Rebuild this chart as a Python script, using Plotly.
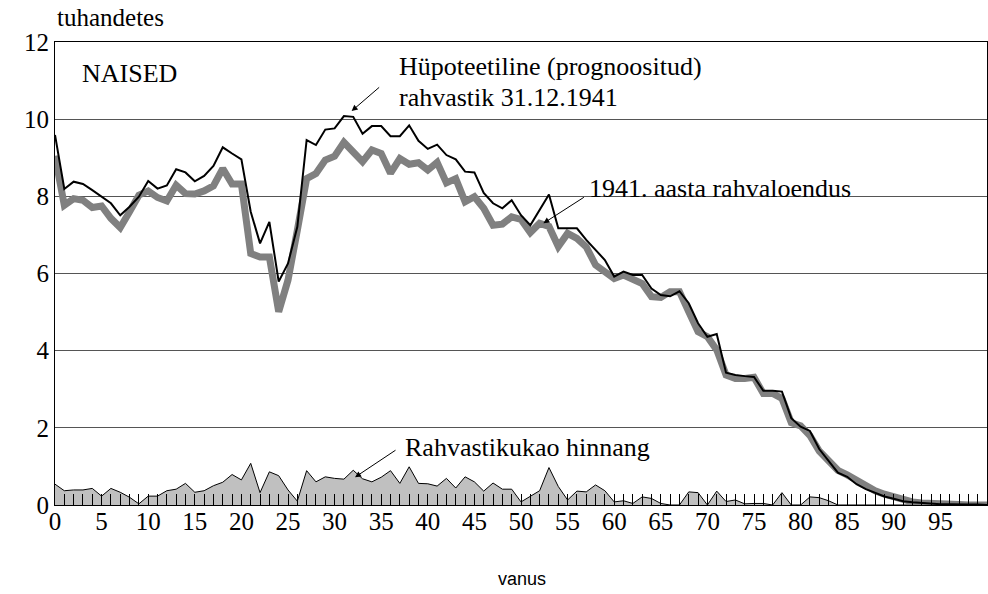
import plotly.graph_objects as go

ages = list(range(0, 101))

hypothetical = [9.59, 8.19, 8.38, 8.32, 8.16, 7.99, 7.82, 7.51, 7.73, 7.99,
                8.40, 8.20, 8.28, 8.70, 8.62, 8.39, 8.53, 8.79, 9.27, 9.11,
                8.96, 7.60, 6.78, 7.34, 5.79, 6.26, 7.21, 9.46, 9.33, 9.73,
                9.76, 10.08, 10.06, 9.62, 9.82, 9.82, 9.56, 9.56, 9.84, 9.44,
                9.23, 9.34, 9.07, 8.96, 8.64, 8.62, 8.09, 7.82, 7.69, 7.90,
                7.51, 7.25, 7.64, 8.05, 7.17, 7.17, 7.17, 6.87, 6.61, 6.35,
                5.92, 6.05, 5.96, 5.96, 5.61, 5.44, 5.41, 5.54, 5.23, 4.71,
                4.36, 4.43, 3.43, 3.37, 3.34, 3.32, 2.96, 2.96, 2.94, 2.25,
                2.03, 1.92, 1.45, 1.14, 0.84, 0.73, 0.54, 0.41, 0.32, 0.22,
                0.16, 0.10, 0.07, 0.05, 0.03, 0.02, 0.02, 0.01, 0.01, 0.01,
                0.00]

census = [9.05, 7.77, 7.94, 7.90, 7.71, 7.75, 7.43, 7.19, 7.60, 8.03,
          8.14, 7.97, 7.88, 8.29, 8.07, 8.06, 8.14, 8.27, 8.72, 8.32,
          8.32, 6.52, 6.43, 6.43, 5.01, 5.83, 7.12, 8.46, 8.59, 8.94,
          9.04, 9.40, 9.15, 8.90, 9.20, 9.11, 8.60, 8.98, 8.83, 8.87,
          8.68, 8.88, 8.35, 8.46, 7.86, 7.99, 7.69, 7.25, 7.28, 7.47,
          7.40, 7.06, 7.30, 7.22, 6.70, 7.04, 6.91, 6.69, 6.22, 6.05,
          5.87, 5.96, 5.85, 5.74, 5.40, 5.38, 5.53, 5.53, 5.01, 4.49,
          4.36, 4.02, 3.37, 3.28, 3.28, 3.31, 2.89, 2.89, 2.76, 2.13,
          2.05, 1.80, 1.40, 1.12, 0.90, 0.78, 0.63, 0.48, 0.37, 0.28,
          0.20, 0.13, 0.08, 0.05, 0.03, 0.02, 0.01, 0.01, 0.00, 0.00,
          0.00]

loss = [0.54, 0.37, 0.39, 0.39, 0.43, 0.23, 0.43, 0.33, 0.20, 0.03,
        0.23, 0.23, 0.37, 0.41, 0.56, 0.33, 0.37, 0.50, 0.59, 0.79,
        0.65, 1.08, 0.32, 0.86, 0.76, 0.39, 0.10, 0.89, 0.60, 0.73,
        0.69, 0.67, 0.90, 0.68, 0.60, 0.72, 0.89, 0.56, 0.99, 0.56,
        0.55, 0.49, 0.69, 0.44, 0.73, 0.60, 0.36, 0.57, 0.41, 0.41,
        0.08, 0.23, 0.37, 0.97, 0.48, 0.13, 0.36, 0.34, 0.52, 0.37,
        0.08, 0.11, 0.04, 0.21, 0.17, 0.04, 0.00, 0.00, 0.34, 0.32,
        0.00, 0.36, 0.09, 0.13, 0.03, 0.04, 0.04, 0.00, 0.32, 0.00,
        0.00, 0.21, 0.19, 0.11, 0.00, 0.00, 0.00, 0.00, 0.00, 0.00,
        0.00, 0.00, 0.00, 0.00, 0.00, 0.00, 0.00, 0.00, 0.00, 0.00,
        0.00]

x_tick_vals = list(range(0, 101))
x_tick_text = [str(a) if (a % 5 == 0 and a < 100) else "" for a in x_tick_vals]
y_tick_vals = [0, 2, 4, 6, 8, 10, 12]

SERIF = "Liberation Serif"

fig = go.Figure()
fig.add_trace(go.Scatter(x=ages, y=loss, mode="lines", fill="tozeroy",
                         fillcolor="#c0c0c0", line=dict(color="black", width=1),
                         name="Rahvastikukao hinnang", showlegend=False))
fig.add_trace(go.Scatter(x=ages, y=census, mode="lines",
                         line=dict(color="#808080", width=7),
                         name="1941. aasta rahvaloendus", showlegend=False))
fig.add_trace(go.Scatter(x=ages, y=hypothetical, mode="lines",
                         line=dict(color="black", width=2),
                         name="Hüpoteetiline rahvastik", showlegend=False))

fig.update_layout(
    width=988, height=594,
    margin=dict(l=55, r=1, t=42, b=89),
    plot_bgcolor="white", paper_bgcolor="white",
    font=dict(family=SERIF, size=25, color="black"),
    xaxis=dict(range=[0, 100], tickmode="array", tickvals=x_tick_vals,
               ticktext=x_tick_text, ticks="inside", ticklen=11,
               tickcolor="black", tickwidth=1, showgrid=False,
               showline=True, linecolor="black", linewidth=1, mirror=True,
               zeroline=False, ticklabelstandoff=-6,
               tickfont=dict(family=SERIF, size=25)),
    yaxis=dict(range=[0, 12], tickvals=y_tick_vals, showgrid=True,
               gridcolor="#555555", gridwidth=1, ticks="",
               showline=True, linecolor="black", linewidth=1, mirror=True,
               zeroline=False, ticklabelstandoff=0,
               tickfont=dict(family=SERIF, size=25)),
)

annotations = [
    dict(text="tuhandetes", xref="paper", yref="paper", x=0, y=1.052,
         xanchor="left", yanchor="middle", showarrow=False,
         font=dict(family=SERIF, size=25)),
    dict(text="NAISED", xref="x", yref="y", x=2.68, y=11.19,
         xanchor="left", yanchor="middle", showarrow=False,
         font=dict(family=SERIF, size=26)),
    dict(text="Hüpoteetiline (prognoositud)", xref="x", yref="y", x=36.7, y=11.37,
         xanchor="left", yanchor="middle", showarrow=False,
         font=dict(family=SERIF, size=26)),
    dict(text="rahvastik 31.12.1941", xref="x", yref="y", x=36.7, y=10.55,
         xanchor="left", yanchor="middle", showarrow=False,
         font=dict(family=SERIF, size=26)),
    dict(text="1941. aasta rahvaloendus", xref="x", yref="y", x=57.1, y=8.21,
         xanchor="left", yanchor="middle", showarrow=False,
         font=dict(family=SERIF, size=26)),
    dict(text="Rahvastikukao hinnang", xref="x", yref="y", x=37.3, y=1.50,
         xanchor="left", yanchor="middle", showarrow=False,
         font=dict(family=SERIF, size=26)),
    dict(text="vanus", xref="paper", yref="paper", x=0.501, y=-0.16,
         xanchor="center", yanchor="middle", showarrow=False,
         font=dict(family="Liberation Sans", size=18)),
    # arrows
    dict(text="", xref="x", yref="y", x=31.83, y=10.21, ax=29, ay=-25,
         axref="pixel", ayref="pixel", showarrow=True, arrowhead=2,
         arrowsize=1.2, arrowwidth=1, arrowcolor="black"),
    dict(text="", xref="x", yref="y", x=52.4, y=7.30, ax=42, ay=-27,
         axref="pixel", ayref="pixel", showarrow=True, arrowhead=2,
         arrowsize=1.2, arrowwidth=1, arrowcolor="black"),
    dict(text="", xref="x", yref="y", x=32.19, y=0.72, ax=42, ay=-28,
         axref="pixel", ayref="pixel", showarrow=True, arrowhead=2,
         arrowsize=1.2, arrowwidth=1, arrowcolor="black"),
]
fig.update_layout(annotations=annotations)

fig.write_html("out.html", config={"displayModeBar": False},
               post_script="document.body.style.margin='0';document.body.style.overflow='hidden';")
